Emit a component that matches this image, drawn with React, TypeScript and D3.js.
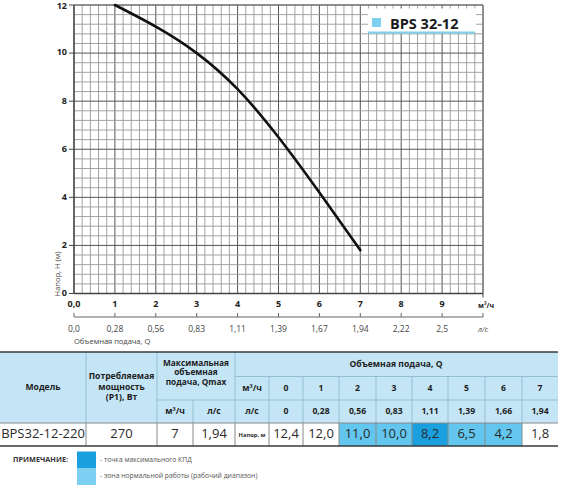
import React from "react";
import * as d3 from "d3";

// ---- chart data ----
const curveQ = [1, 2, 3, 4, 5, 6, 7];
const curveH = [12.0, 11.1, 10.0, 8.5, 6.5, 4.2, 1.8];
const qTickValues = [0, 1, 2, 3, 4, 5, 6, 7, 8, 9];
const qTickLabels = ["0,0", "1", "2", "3", "4", "5", "6", "7", "8", "9"];
const lsTickLabels = ["0,0", "0,28", "0,56", "0,83", "1,11", "1,39", "1,67", "1,94", "2,22", "2,5"];
const hTickValues = [0, 2, 4, 6, 8, 10, 12];
const seriesName = "BPS 32-12";

// ---- table data ----
const tableQm3h = ["0", "1", "2", "3", "4", "5", "6", "7"];
const tableQls = ["0", "0,28", "0,56", "0,83", "1,11", "1,39", "1,66", "1,94"];
const tableHead = ["12,4", "12,0", "11,0", "10,0", "8,2", "6,5", "4,2", "1,8"];
const tableZone = ["", "", "work", "work", "best", "work", "work", ""];
const modelRow = ["BPS32-12-220", "270", "7", "1,94"];

const FONT = "'Open Sans', 'Noto Sans', sans-serif";
const HEADER_BG = "#c4e5f6";
const HEADER_LINE = "#93bfd4";
const WORK = "#62c6ef";
const BEST = "#1aa0df";

export default function App() {
  const x = d3.scaleLinear().domain([0, 10]).range([74, 483]);
  const y = d3.scaleLinear().domain([0, 12]).range([293.5, 5]);

  const vGrid = d3.range(0, 10.0001, 0.2);
  const hGrid = d3.range(0, 12.0001, 0.4);

  const line = d3
    .line<number>()
    .x((_, i) => x(curveQ[i]))
    .y((d) => y(d))
    .curve(d3.curveNatural);

  // table geometry
  const rowY = [352, 376.5, 400, 423, 446];
  const qCols = [269, 303, 339, 376, 412, 448, 485, 522, 558];
  const fixedCols = [0, 86, 157, 193, 235, 269];

  const hdr = (t: string, cx: number, cy: number, size = 8.6, weight = 700, fill = "#1d1d1d") => (
    <text x={cx} y={cy} textAnchor="middle" dominantBaseline="middle" fontSize={size} fontWeight={weight} fill={fill} fontFamily={FONT}>
      {t}
    </text>
  );

  return (
    <svg width={570} height={485} style={{ position: "absolute", left: 0, top: 0, background: "#fff" }}>
      {/* grid */}
      <g>
        {vGrid.map((v, i) => {
          const major = Math.abs(v - Math.round(v)) < 1e-6;
          return (
            <line key={"v" + i} x1={x(v)} x2={x(v)} y1={y(12)} y2={y(0)} stroke={major ? "#555" : "#999"} strokeWidth={major ? 1 : 0.9} />
          );
        })}
        {hGrid.map((v, i) => {
          const major = Math.abs(v / 2 - Math.round(v / 2)) < 1e-6;
          return (
            <line key={"h" + i} x1={x(0)} x2={x(10)} y1={y(v)} y2={y(v)} stroke={major ? "#555" : "#999"} strokeWidth={major ? 1 : 0.9} />
          );
        })}
        <line x1={x(0)} x2={x(0)} y1={y(12)} y2={y(0)} stroke="#444" strokeWidth={1.3} />
        <line x1={x(0)} x2={x(10)} y1={y(0)} y2={y(0)} stroke="#444" strokeWidth={1.3} />
        <line x1={x(10)} x2={x(10)} y1={y(12)} y2={y(0)} stroke="#777" strokeWidth={1} />
        <line x1={x(0)} x2={x(10)} y1={y(12)} y2={y(12)} stroke="#777" strokeWidth={1} />
      </g>

      {/* legend */}
      <rect x={368} y={8.5} width={108} height={23.5} fill="#fff" />
      <rect x={372} y={18} width={9} height={9} fill="#7dd0f0" />
      <text x={390} y={28.5} fontSize={14.5} fontWeight={700} fill="#1a1a1a" fontFamily={FONT}>
        {seriesName}
      </text>
      <line x1={368} x2={475} y1={32.5} y2={32.5} stroke="#7fcfee" strokeWidth={2} />

      {/* curve */}
      <path d={line(curveH) || ""} fill="none" stroke="#111" strokeWidth={2.6} strokeLinecap="round" />

      {/* y axis */}
      {hTickValues.map((v) => (
        <g key={"yt" + v}>
          <line x1={69} x2={74} y1={y(v)} y2={y(v)} stroke="#444" strokeWidth={1} />
          <text x={67} y={Math.max(y(v), 7)} textAnchor="end" dominantBaseline="middle" fontSize={9} fontWeight={700} fill="#222" fontFamily={FONT}>
            {v}
          </text>
        </g>
      ))}
      <text transform={`translate(58,274) rotate(-90)`} textAnchor="middle" dominantBaseline="middle" fontSize={7.5} fill="#444" fontFamily={FONT}>
        Напор, Н (м)
      </text>

      {/* x axis (m3/h) */}
      {qTickValues.map((v, i) => (
        <text key={"xt" + v} x={x(v)} y={304.5} textAnchor="middle" dominantBaseline="middle" fontSize={9} fontWeight={700} fill="#222" fontFamily={FONT}>
          {qTickLabels[i]}
        </text>
      ))}
      <line x1={x(10)} x2={x(10)} y1={y(0)} y2={y(0) + 4} stroke="#444" strokeWidth={1} />
      <text x={x(10) + 3} y={306.5} textAnchor="middle" dominantBaseline="middle" fontSize={7} fontWeight={700} fill="#222" fontFamily={FONT}>
        м³/ч
      </text>

      {/* secondary axis (l/s) */}
      <line x1={x(0)} x2={x(10)} y1={317} y2={317} stroke="#666" strokeWidth={1} />
      {d3.range(0, 11).map((v) => (
        <line key={"st" + v} x1={x(v)} x2={x(v)} y1={313} y2={317} stroke="#666" strokeWidth={1} />
      ))}
      {lsTickLabels.map((t, i) => (
        <text key={"ls" + i} x={x(qTickValues[i])} y={329.5} textAnchor="middle" dominantBaseline="middle" fontSize={8.5} fill="#444" fontFamily={FONT}>
          {t}
        </text>
      ))}
      <text x={x(10)} y={329.5} textAnchor="middle" dominantBaseline="middle" fontSize={7.5} fontStyle="italic" fill="#444" fontFamily={FONT}>
        л/с
      </text>
      <text x={74} y={342} dominantBaseline="middle" fontSize={7.5} fill="#444" fontFamily={FONT}>
        Объемная подача, Q
      </text>

      {/* table header background */}
      <rect x={0} y={rowY[0]} width={558} height={rowY[3] - rowY[0]} fill={HEADER_BG} />
      {/* header internal lines */}
      <g stroke={HEADER_LINE} strokeWidth={1}>
        <line x1={86} x2={86} y1={rowY[0]} y2={rowY[3]} />
        <line x1={157} x2={157} y1={rowY[0]} y2={rowY[3]} />
        <line x1={235} x2={235} y1={rowY[0]} y2={rowY[3]} />
        <line x1={193} x2={193} y1={rowY[2]} y2={rowY[3]} />
        <line x1={157} x2={235} y1={rowY[2]} y2={rowY[2]} />
        <line x1={235} x2={558} y1={rowY[1]} y2={rowY[1]} />
        <line x1={235} x2={558} y1={rowY[2]} y2={rowY[2]} />
        {qCols.slice(0, -1).map((c) => (
          <line key={"qc" + c} x1={c} x2={c} y1={rowY[1]} y2={rowY[3]} />
        ))}
      </g>

      {/* header text */}
      {hdr("Модель", 43, 388)}
      {hdr("Потребляемая", 121.5, 377)}
      {hdr("мощность", 121.5, 387.5)}
      {hdr("(P1), Вт", 121.5, 398)}
      {hdr("Максимальная", 196, 363.5, 8.3)}
      {hdr("объемная", 196, 373, 8.3)}
      {hdr("подача, Qmax", 196, 382.5, 8.3)}
      {hdr("м³/ч", 175, 412)}
      {hdr("л/с", 214, 412)}
      {hdr("Объемная подача, Q", 396, 364.5)}
      {hdr("м³/ч", 252, 388.5)}
      {hdr("л/с", 252, 412)}
      {tableQm3h.map((t, i) => (
        <g key={"hq" + i}>{hdr(t, (qCols[i] + qCols[i + 1]) / 2, 388.5)}</g>
      ))}
      {tableQls.map((t, i) => (
        <g key={"hl" + i}>{hdr(t, (qCols[i] + qCols[i + 1]) / 2, 412)}</g>
      ))}

      {/* data row */}
      {tableZone.map((z, i) =>
        z ? (
          <rect key={"z" + i} x={qCols[i]} y={rowY[3]} width={qCols[i + 1] - qCols[i]} height={rowY[4] - rowY[3]} fill={z === "best" ? BEST : WORK} />
        ) : null
      )}
      <g stroke="#8a8a8a" strokeWidth={1}>
        {fixedCols.slice(1).concat(qCols.slice(1, -1)).map((c) => (
          <line key={"dc" + c} x1={c} x2={c} y1={rowY[3]} y2={rowY[4]} />
        ))}
        <line x1={0} x2={558} y1={rowY[3]} y2={rowY[3]} />
      </g>
      {modelRow.map((t, i) => (
        <g key={"m" + i}>{hdr(t, (fixedCols[i] + fixedCols[i + 1]) / 2, 435, 13, 400, "#2a2a2a")}</g>
      ))}
      {hdr("Напор, м", 252, 435, 5.8, 700, "#2a2a2a")}
      {tableHead.map((t, i) => (
        <g key={"dh" + i}>{hdr(t, (qCols[i] + qCols[i + 1]) / 2, 435, 13, 400, "#2a2a2a")}</g>
      ))}
      <line x1={0} x2={558} y1={rowY[0]} y2={rowY[0]} stroke="#3a3a3a" strokeWidth={1.6} />
      <line x1={0} x2={558} y1={rowY[4]} y2={rowY[4]} stroke="#3a3a3a" strokeWidth={1.6} />

      {/* notes */}
      <text x={13} y={460} dominantBaseline="middle" fontSize={7.3} fontWeight={700} fill="#333" fontFamily={FONT}>
        ПРИМЕЧАНИЕ:
      </text>
      <rect x={77} y={451.5} width={19} height={17} fill={BEST} />
      <rect x={77} y={468.5} width={19} height={16.5} fill="#7dd0f2" />
      <text x={100} y={460} dominantBaseline="middle" fontSize={6.8} fill="#555" fontFamily={FONT}>
        - точка максимального КПД
      </text>
      <text x={100} y={476.5} dominantBaseline="middle" fontSize={6.8} fill="#555" fontFamily={FONT}>
        - зона нормальной работы (рабочий диапазон)
      </text>
    </svg>
  );
}
